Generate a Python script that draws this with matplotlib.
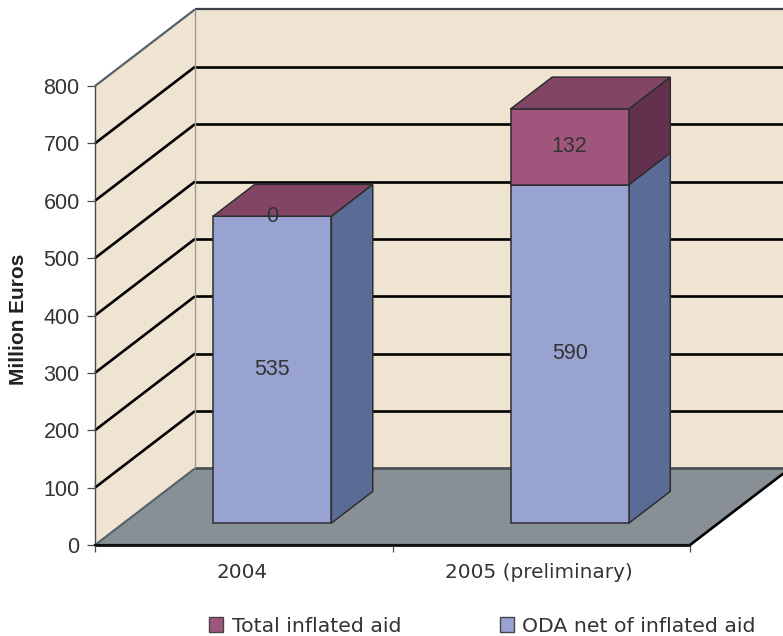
import matplotlib
matplotlib.use("Agg")
import matplotlib.pyplot as plt
from matplotlib.patches import Patch, Polygon
from matplotlib.transforms import ScaledTranslation

# data
categories = ["2004", "2005 (preliminary)"]
oda_net = [535, 590]
inflated = [0, 132]
y_ticks = [0, 100, 200, 300, 400, 500, 600, 700, 800]

# look of the fake 3D box
DEPTH_X = 0.336   # x units for full depth
DEPTH_Y = 133.5   # y units for full depth
BAR_WIDTH = 0.397
BAR_D0 = 0.285
BAR_D1 = 0.70

WALL = "#EFE4D2"
FLOOR = "#889096"
BLUE = ("#99A3D1", "#5A6B95")
PURPLE = ("#A0567C", "#63314D", "#824565")
EDGE = "#2e2e2e"
TEXT = "#333333"


def proj(x, y, d):
    return (x + d * DEPTH_X, y + d * DEPTH_Y)


def face(ax, pts, color, z, edge=EDGE, lw=1.1):
    ax.add_patch(Polygon([proj(*p) for p in pts], closed=True, facecolor=color,
                         edgecolor=edge, linewidth=lw, zorder=z, clip_on=False))


def seg(ax, a, b, color, lw, z):
    p, q = proj(*a), proj(*b)
    ax.plot([p[0], q[0]], [p[1], q[1]], color=color, lw=lw, zorder=z,
            clip_on=False, solid_capstyle="butt")


fig = plt.figure(figsize=(7.83, 6.36), dpi=100)
ax = fig.add_axes([95 / 783, 1 - 545 / 636, 595 / 783, 459 / 636])
ax.set_xlim(0, 2)
ax.set_ylim(0, 800)
ax.patch.set_visible(False)
xmax = 2
ymax = 800

# walls
face(ax, [(0, 0, 0), (0, 0, 1), (0, ymax, 1), (0, ymax, 0)], WALL, 1, edge="none")
face(ax, [(0, 0, 1), (xmax, 0, 1), (xmax, ymax, 1), (0, ymax, 1)], WALL, 1, edge="none")

# gridlines on both walls
for t in y_ticks[1:-1]:
    seg(ax, (0, t, 0), (0, t, 1), "black", 1.9, 1.2)
    seg(ax, (0, t, 1), (xmax, t, 1), "black", 1.9, 1.2)
seg(ax, (0, ymax, 0), (0, ymax, 1), "#566069", 1.6, 1.2)
seg(ax, (0, ymax, 1), (xmax, ymax, 1), "#3c4248", 1.6, 1.2)
seg(ax, (0, 0, 1), (0, ymax, 1), "#9a9a98", 1.0, 1.3)

# floor
face(ax, [(0, 0, 0), (xmax, 0, 0), (xmax, 0, 1), (0, 0, 1)], FLOOR, 1.4, edge="none")
seg(ax, (0, 0, 1), (xmax, 0, 1), "#4c5258", 2.0, 1.5)
seg(ax, (0, 0, 0), (0, 0, 1), "#566069", 1.5, 1.5)
seg(ax, (xmax, 0, 0), (xmax, 0, 1), "black", 1.9, 1.5)
seg(ax, (0, 0, 0), (xmax, 0, 0), "#111111", 2.0, 1.5)

# stacked bars
for i, (a, b) in enumerate(zip(oda_net, inflated)):
    x0 = i + 0.5 - BAR_WIDTH / 2
    x1 = x0 + BAR_WIDTH
    cx = (x0 + x1) / 2
    z = 2 + i
    for lo, hi, cols in [(0, a, BLUE), (a, a + b, PURPLE)]:
        if hi > lo:
            face(ax, [(x1, lo, BAR_D0), (x1, lo, BAR_D1), (x1, hi, BAR_D1), (x1, hi, BAR_D0)], cols[1], z)
            face(ax, [(x0, lo, BAR_D0), (x1, lo, BAR_D0), (x1, hi, BAR_D0), (x0, hi, BAR_D0)], cols[0], z)
    top = a + b
    face(ax, [(x0, top, BAR_D0), (x1, top, BAR_D0), (x1, top, BAR_D1), (x0, top, BAR_D1)], PURPLE[2], z)

    # value labels
    px, py = proj(cx, a / 2, BAR_D0)
    ax.text(px, py, str(a), ha="center", va="center", color=TEXT, fontsize=15.5,
            family="Liberation Sans", zorder=5)
    px, py = proj(cx, a + b / 2, BAR_D0)
    ax.text(px, py, str(b), ha="center", va="center", color=TEXT, fontsize=15.5,
            family="Liberation Sans", zorder=5)

# axes
for s in ["top", "right"]:
    ax.spines[s].set_visible(False)
ax.spines["left"].set_color("#4a4a4a")
ax.spines["left"].set_linewidth(1.0)
ax.spines["bottom"].set_color("#111111")
ax.spines["bottom"].set_linewidth(1.6)
ax.set_yticks(y_ticks)
ax.set_yticklabels([str(t) for t in y_ticks], family="Liberation Sans", fontsize=15.5, color=TEXT)
ax.tick_params(axis="y", length=6, width=0.9, color="#4a4a4a", pad=5)
ax.set_xticks([0, 1, 2])
ax.set_xticklabels([])
ax.set_xticks([0.5, 1.5], minor=True)
ax.set_xticklabels(categories, minor=True, fontsize=14.4, color=TEXT)
ax.tick_params(axis="x", which="major", length=5, width=0.9, color="#4a4a4a")
ax.tick_params(axis="x", which="minor", length=0, pad=13.2)
shift = ScaledTranslation(-2 / 100, 0, fig.dpi_scale_trans)
for lab in ax.get_xticklabels(minor=True):
    lab.set_transform(lab.get_transform() + shift)

fig.text(18.5 / 783, 1 - 319.5 / 636, "Million Euros", rotation=90, ha="center", va="center",
         family="Liberation Sans", weight="bold", fontsize=15, color="#222222")

handles = [Patch(facecolor=PURPLE[0], edgecolor="#444444", label="Total inflated aid"),
           Patch(facecolor=BLUE[0], edgecolor="#444444", label="ODA net of inflated aid")]
fig.legend(handles=handles, ncol=2, frameon=False, loc="center left",
           bbox_to_anchor=(201 / 783, 1 - 626 / 636), fontsize=14.7, labelcolor=TEXT,
           handlelength=0.7, handleheight=0.7, handletextpad=0.42, columnspacing=4.8,
           borderaxespad=0, borderpad=0.4)

fig.savefig("out.png", dpi=100)
